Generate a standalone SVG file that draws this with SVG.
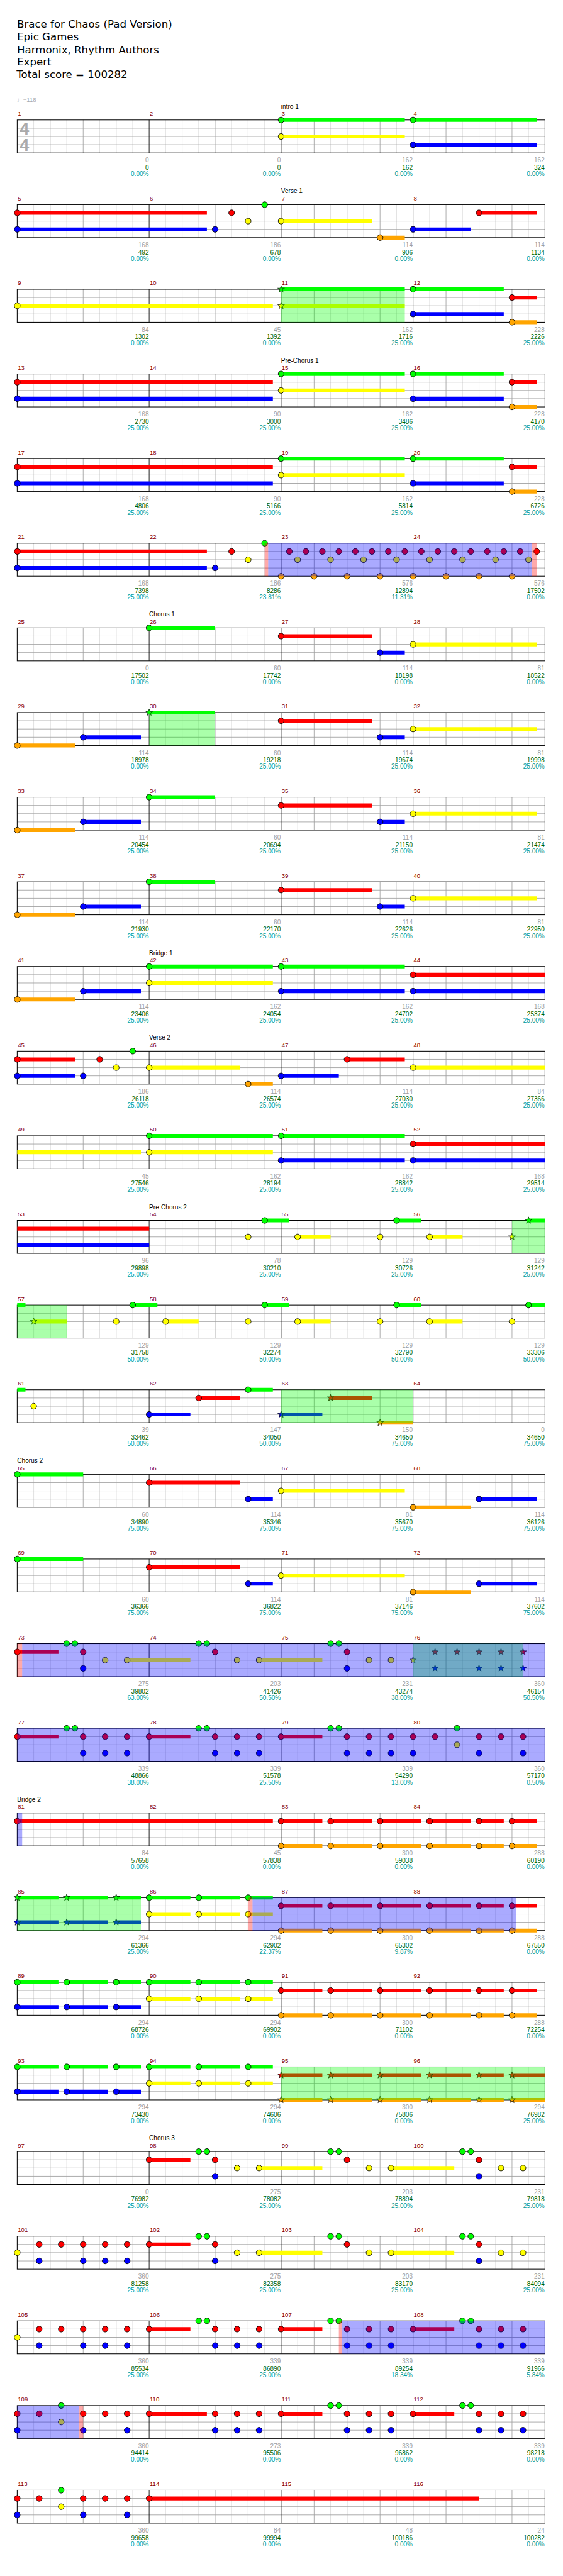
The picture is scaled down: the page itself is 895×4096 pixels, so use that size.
<svg xmlns="http://www.w3.org/2000/svg" width="895" height="4096" viewBox="0 0 895 4096">
<style>
.t{font-family:"DejaVu Sans",Verdana,sans-serif;font-size:19px;fill:#000}
.mn{font-family:"Liberation Sans",Arial,sans-serif;font-size:11px;fill:#8b0000}
.lb{font-family:"Liberation Sans",Arial,sans-serif;font-size:11.5px;fill:#000}
.sa,.sb,.sc{font-family:"Liberation Sans",Arial,sans-serif;font-size:11.5px;text-anchor:end}
.sa{fill:#a0a0a0}.sb{fill:#006400}.sc{fill:#009c9c}
.h{fill:none;stroke-width:7}
.hg{stroke:#00ff00}.hr{stroke:#ff0000}.hy{stroke:#ffff00}.hb{stroke:#0000ff}.ho{stroke:#ffa500}
.sp{fill:#00ff00;fill-opacity:0.333}
.od{fill:#0000ff;fill-opacity:0.333}
.pk{fill:#ff0000;fill-opacity:0.333}
</style>
<defs>
<g id="grid">
<path d="M30 0V60M90 0V60M150 0V60M210 0V60M270 0V60M330 0V60M390 0V60M450 0V60M510 0V60M570 0V60M630 0V60M690 0V60M750 0V60M810 0V60M870 0V60M930 0V60" stroke="#dcdcdc" stroke-width="1"/>
<path d="M60 0V60M120 0V60M180 0V60M300 0V60M360 0V60M420 0V60M540 0V60M600 0V60M660 0V60M780 0V60M840 0V60M900 0V60M0 15H960M0 30H960M0 45H960" stroke="#a0a0a0" stroke-width="1"/>
<path d="M240 0V60M480 0V60M720 0V60" stroke="#000" stroke-width="1"/>
<rect x="0" y="0" width="960" height="60" fill="none" stroke="#000" stroke-width="1.2"/>
</g>
<circle id="n" r="5.3" stroke="#000" stroke-width="1"/>
<use id="ng" href="#n" fill="#00ff00"/>
<use id="nr" href="#n" y="15" fill="#ff0000"/>
<use id="ny" href="#n" y="30" fill="#ffff00"/>
<use id="nb" href="#n" y="45" fill="#0000ff"/>
<use id="no" href="#n" y="60" fill="#ffa500"/>
<polygon id="st" points="0,-6.5 1.53,-2.1 6.18,-2.01 2.47,0.8 3.82,5.26 0,2.6 -3.82,5.26 -2.47,0.8 -6.18,-2.01 -1.53,-2.1" stroke="#000" stroke-width="0.8"/>
<use id="sg" href="#st" fill="#00ff00"/>
<use id="sr" href="#st" y="15" fill="#ff0000"/>
<use id="sy" href="#st" y="30" fill="#ffff00"/>
<use id="sb" href="#st" y="45" fill="#0000ff"/>
<use id="so" href="#st" y="60" fill="#ffa500"/>
</defs>
<rect width="895" height="4096" fill="#fff"/>
<g transform="scale(0.874)">
<g id="header">
<text class="t" x="31" y="50">Brace for Chaos (Pad Version)</text>
<text class="t" x="31" y="73">Epic Games</text>
<text class="t" x="31" y="96.7">Harmonix, Rhythm Authors</text>
<text class="t" x="31" y="119.3">Expert</text>
<text class="t" x="30" y="142.3">Total score = 100282</text>
<text x="31" y="185" font-family="Liberation Sans, DejaVu Sans, sans-serif" font-size="11" fill="#aaa">♩=118</text>
</g>

<g id="row1" transform="translate(31.3,218.3)">
<use href="#grid"/>
<text x="4.5" y="26.7" font-family="Liberation Sans, Arial, sans-serif" font-weight="bold" font-size="31" fill="#aaa">4</text>
<text x="4.5" y="56.7" font-family="Liberation Sans, Arial, sans-serif" font-weight="bold" font-size="31" fill="#aaa">4</text>
<path class="h hg" d="M480 0H705M720 0H945"/><path class="h hy" d="M480 30H705"/><path class="h hb" d="M720 45H945"/>
<use href="#ng" x="480"/><use href="#ny" x="480"/><use href="#ng" x="720"/><use href="#nb" x="720"/>
<text class="lb" x="480" y="-20.6">intro 1</text>
<text class="mn"><tspan x="1" y="-7.5">1</tspan><tspan x="241">2</tspan><tspan x="481">3</tspan><tspan x="721">4</tspan></text>
<text class="sa"><tspan x="239.3" y="77.4">0</tspan><tspan x="479.3">0</tspan><tspan x="719.3">162</tspan><tspan x="959.3">162</tspan></text>
<text class="sb"><tspan x="239.3" y="90.7">0</tspan><tspan x="479.3">0</tspan><tspan x="719.3">162</tspan><tspan x="959.3">324</tspan></text>
<text class="sc"><tspan x="239.3" y="102.4">0.00%</tspan><tspan x="479.3">0.00%</tspan><tspan x="719.3">0.00%</tspan><tspan x="959.3">0.00%</tspan></text>
</g>

<g id="row2" transform="translate(31.3,372.3)">
<use href="#grid"/>
<path class="h hr" d="M0 15H345M840 15H945"/><path class="h hb" d="M0 45H345M720 45H825"/><path class="h hy" d="M480 30H645"/><path class="h ho" d="M660 60H705"/>
<use href="#nr" x="0"/><use href="#nb" x="0"/><use href="#nb" x="360"/><use href="#nr" x="390"/><use href="#ny" x="420"/><use href="#ng" x="450"/><use href="#ny" x="480"/><use href="#no" x="660"/><use href="#nb" x="720"/><use href="#nr" x="840"/>
<text class="lb" x="480" y="-20.6">Verse 1</text>
<text class="mn"><tspan x="1" y="-7.5">5</tspan><tspan x="241">6</tspan><tspan x="481">7</tspan><tspan x="721">8</tspan></text>
<text class="sa"><tspan x="239.3" y="77.4">168</tspan><tspan x="479.3">186</tspan><tspan x="719.3">114</tspan><tspan x="959.3">114</tspan></text>
<text class="sb"><tspan x="239.3" y="90.7">492</tspan><tspan x="479.3">678</tspan><tspan x="719.3">906</tspan><tspan x="959.3">1134</tspan></text>
<text class="sc"><tspan x="239.3" y="102.4">0.00%</tspan><tspan x="479.3">0.00%</tspan><tspan x="719.3">0.00%</tspan><tspan x="959.3">0.00%</tspan></text>
</g>

<g id="row3" transform="translate(31.3,526.3)">
<use href="#grid"/>
<path class="h hy" d="M0 30H465M480 30H705"/><path class="h hg" d="M480 0H705M720 0H885"/><path class="h hb" d="M720 45H885"/><path class="h hr" d="M900 15H945"/><path class="h ho" d="M900 60H945"/>
<use href="#ny" x="0"/><use href="#sg" x="480"/><use href="#sy" x="480"/><use href="#ng" x="720"/><use href="#nb" x="720"/><use href="#nr" x="900"/><use href="#no" x="900"/>
<rect class="sp" x="480" y="0" width="225" height="60"/>
<text class="mn"><tspan x="1" y="-7.5">9</tspan><tspan x="241">10</tspan><tspan x="481">11</tspan><tspan x="721">12</tspan></text>
<text class="sa"><tspan x="239.3" y="77.4">84</tspan><tspan x="479.3">45</tspan><tspan x="719.3">162</tspan><tspan x="959.3">228</tspan></text>
<text class="sb"><tspan x="239.3" y="90.7">1302</tspan><tspan x="479.3">1392</tspan><tspan x="719.3">1716</tspan><tspan x="959.3">2226</tspan></text>
<text class="sc"><tspan x="239.3" y="102.4">0.00%</tspan><tspan x="479.3">0.00%</tspan><tspan x="719.3">25.00%</tspan><tspan x="959.3">25.00%</tspan></text>
</g>

<g id="row4" transform="translate(31.3,680.3)">
<use href="#grid"/>
<path class="h hr" d="M0 15H465M900 15H945"/><path class="h hb" d="M0 45H465M720 45H885"/><path class="h hg" d="M480 0H705M720 0H885"/><path class="h hy" d="M480 30H705"/><path class="h ho" d="M900 60H945"/>
<use href="#nr" x="0"/><use href="#nb" x="0"/><use href="#ng" x="480"/><use href="#ny" x="480"/><use href="#ng" x="720"/><use href="#nb" x="720"/><use href="#nr" x="900"/><use href="#no" x="900"/>
<text class="lb" x="480" y="-20.6">Pre-Chorus 1</text>
<text class="mn"><tspan x="1" y="-7.5">13</tspan><tspan x="241">14</tspan><tspan x="481">15</tspan><tspan x="721">16</tspan></text>
<text class="sa"><tspan x="239.3" y="77.4">168</tspan><tspan x="479.3">90</tspan><tspan x="719.3">162</tspan><tspan x="959.3">228</tspan></text>
<text class="sb"><tspan x="239.3" y="90.7">2730</tspan><tspan x="479.3">3000</tspan><tspan x="719.3">3486</tspan><tspan x="959.3">4170</tspan></text>
<text class="sc"><tspan x="239.3" y="102.4">25.00%</tspan><tspan x="479.3">25.00%</tspan><tspan x="719.3">25.00%</tspan><tspan x="959.3">25.00%</tspan></text>
</g>

<g id="row5" transform="translate(31.3,834.3)">
<use href="#grid"/>
<path class="h hr" d="M0 15H465M900 15H945"/><path class="h hb" d="M0 45H465M720 45H885"/><path class="h hg" d="M480 0H705M720 0H885"/><path class="h hy" d="M480 30H705"/><path class="h ho" d="M900 60H945"/>
<use href="#nr" x="0"/><use href="#nb" x="0"/><use href="#ng" x="480"/><use href="#ny" x="480"/><use href="#ng" x="720"/><use href="#nb" x="720"/><use href="#nr" x="900"/><use href="#no" x="900"/>
<text class="mn"><tspan x="1" y="-7.5">17</tspan><tspan x="241">18</tspan><tspan x="481">19</tspan><tspan x="721">20</tspan></text>
<text class="sa"><tspan x="239.3" y="77.4">168</tspan><tspan x="479.3">90</tspan><tspan x="719.3">162</tspan><tspan x="959.3">228</tspan></text>
<text class="sb"><tspan x="239.3" y="90.7">4806</tspan><tspan x="479.3">5166</tspan><tspan x="719.3">5814</tspan><tspan x="959.3">6726</tspan></text>
<text class="sc"><tspan x="239.3" y="102.4">25.00%</tspan><tspan x="479.3">25.00%</tspan><tspan x="719.3">25.00%</tspan><tspan x="959.3">25.00%</tspan></text>
</g>

<g id="row6" transform="translate(31.3,988.3)">
<use href="#grid"/>
<path class="h hr" d="M0 15H345"/><path class="h hb" d="M0 45H345"/>
<use href="#nr" x="0"/><use href="#nb" x="0"/><use href="#nb" x="360"/><use href="#nr" x="390"/><use href="#ny" x="420"/><use href="#ng" x="450"/>
<use href="#nr" x="495"/><use href="#nr" x="525"/><use href="#nr" x="555"/><use href="#nr" x="585"/><use href="#nr" x="615"/><use href="#nr" x="645"/><use href="#nr" x="675"/><use href="#nr" x="705"/><use href="#nr" x="735"/><use href="#nr" x="765"/><use href="#nr" x="795"/><use href="#nr" x="825"/><use href="#nr" x="855"/><use href="#nr" x="885"/><use href="#nr" x="915"/><use href="#nr" x="945"/>
<use href="#ny" x="510"/><use href="#ny" x="570"/><use href="#ny" x="630"/><use href="#ny" x="690"/><use href="#ny" x="750"/><use href="#ny" x="810"/><use href="#ny" x="870"/><use href="#ny" x="930"/>
<use href="#no" x="480"/><use href="#no" x="540"/><use href="#no" x="600"/><use href="#no" x="660"/><use href="#no" x="720"/><use href="#no" x="780"/><use href="#no" x="840"/><use href="#no" x="900"/>
<rect class="pk" x="450" y="0" width="6.5" height="60"/><rect class="od" x="456.5" y="0" width="479.5" height="60"/><rect class="pk" x="936" y="0" width="9" height="60"/>
<text class="mn"><tspan x="1" y="-7.5">21</tspan><tspan x="241">22</tspan><tspan x="481">23</tspan><tspan x="721">24</tspan></text>
<text class="sa"><tspan x="239.3" y="77.4">168</tspan><tspan x="479.3">186</tspan><tspan x="719.3">576</tspan><tspan x="959.3">576</tspan></text>
<text class="sb"><tspan x="239.3" y="90.7">7398</tspan><tspan x="479.3">8286</tspan><tspan x="719.3">12894</tspan><tspan x="959.3">17502</tspan></text>
<text class="sc"><tspan x="239.3" y="102.4">25.00%</tspan><tspan x="479.3">23.81%</tspan><tspan x="719.3">11.31%</tspan><tspan x="959.3">0.00%</tspan></text>
</g>

<g id="row7" transform="translate(31.3,1142.3)">
<use href="#grid"/>
<path class="h hg" d="M240 0H360"/><path class="h hr" d="M480 15H645"/><path class="h hb" d="M660 45H705"/><path class="h hy" d="M720 30H945"/>
<use href="#ng" x="240"/><use href="#nr" x="480"/><use href="#nb" x="660"/><use href="#ny" x="720"/>
<text class="lb" x="240" y="-20.6">Chorus 1</text>
<text class="mn"><tspan x="1" y="-7.5">25</tspan><tspan x="241">26</tspan><tspan x="481">27</tspan><tspan x="721">28</tspan></text>
<text class="sa"><tspan x="239.3" y="77.4">0</tspan><tspan x="479.3">60</tspan><tspan x="719.3">114</tspan><tspan x="959.3">81</tspan></text>
<text class="sb"><tspan x="239.3" y="90.7">17502</tspan><tspan x="479.3">17742</tspan><tspan x="719.3">18198</tspan><tspan x="959.3">18522</tspan></text>
<text class="sc"><tspan x="239.3" y="102.4">0.00%</tspan><tspan x="479.3">0.00%</tspan><tspan x="719.3">0.00%</tspan><tspan x="959.3">0.00%</tspan></text>
</g>

<g id="row8" transform="translate(31.3,1296.3)">
<use href="#grid"/>
<path class="h ho" d="M0 60H105"/><path class="h hb" d="M120 45H225M660 45H705"/><path class="h hg" d="M240 0H360"/><path class="h hr" d="M480 15H645"/><path class="h hy" d="M720 30H945"/>
<use href="#no" x="0"/><use href="#nb" x="120"/><use href="#sg" x="240"/><use href="#nr" x="480"/><use href="#nb" x="660"/><use href="#ny" x="720"/>
<rect class="sp" x="240" y="0" width="120" height="60"/>
<text class="mn"><tspan x="1" y="-7.5">29</tspan><tspan x="241">30</tspan><tspan x="481">31</tspan><tspan x="721">32</tspan></text>
<text class="sa"><tspan x="239.3" y="77.4">114</tspan><tspan x="479.3">60</tspan><tspan x="719.3">114</tspan><tspan x="959.3">81</tspan></text>
<text class="sb"><tspan x="239.3" y="90.7">18978</tspan><tspan x="479.3">19218</tspan><tspan x="719.3">19674</tspan><tspan x="959.3">19998</tspan></text>
<text class="sc"><tspan x="239.3" y="102.4">0.00%</tspan><tspan x="479.3">25.00%</tspan><tspan x="719.3">25.00%</tspan><tspan x="959.3">25.00%</tspan></text>
</g>

<g id="row9" transform="translate(31.3,1450.3)">
<use href="#grid"/>
<path class="h ho" d="M0 60H105"/><path class="h hb" d="M120 45H225M660 45H705"/><path class="h hg" d="M240 0H360"/><path class="h hr" d="M480 15H645"/><path class="h hy" d="M720 30H945"/>
<use href="#no" x="0"/><use href="#nb" x="120"/><use href="#ng" x="240"/><use href="#nr" x="480"/><use href="#nb" x="660"/><use href="#ny" x="720"/>
<text class="mn"><tspan x="1" y="-7.5">33</tspan><tspan x="241">34</tspan><tspan x="481">35</tspan><tspan x="721">36</tspan></text>
<text class="sa"><tspan x="239.3" y="77.4">114</tspan><tspan x="479.3">60</tspan><tspan x="719.3">114</tspan><tspan x="959.3">81</tspan></text>
<text class="sb"><tspan x="239.3" y="90.7">20454</tspan><tspan x="479.3">20694</tspan><tspan x="719.3">21150</tspan><tspan x="959.3">21474</tspan></text>
<text class="sc"><tspan x="239.3" y="102.4">25.00%</tspan><tspan x="479.3">25.00%</tspan><tspan x="719.3">25.00%</tspan><tspan x="959.3">25.00%</tspan></text>
</g>

<g id="row10" transform="translate(31.3,1604.3)">
<use href="#grid"/>
<path class="h ho" d="M0 60H105"/><path class="h hb" d="M120 45H225M660 45H705"/><path class="h hg" d="M240 0H360"/><path class="h hr" d="M480 15H645"/><path class="h hy" d="M720 30H945"/>
<use href="#no" x="0"/><use href="#nb" x="120"/><use href="#ng" x="240"/><use href="#nr" x="480"/><use href="#nb" x="660"/><use href="#ny" x="720"/>
<text class="mn"><tspan x="1" y="-7.5">37</tspan><tspan x="241">38</tspan><tspan x="481">39</tspan><tspan x="721">40</tspan></text>
<text class="sa"><tspan x="239.3" y="77.4">114</tspan><tspan x="479.3">60</tspan><tspan x="719.3">114</tspan><tspan x="959.3">81</tspan></text>
<text class="sb"><tspan x="239.3" y="90.7">21930</tspan><tspan x="479.3">22170</tspan><tspan x="719.3">22626</tspan><tspan x="959.3">22950</tspan></text>
<text class="sc"><tspan x="239.3" y="102.4">25.00%</tspan><tspan x="479.3">25.00%</tspan><tspan x="719.3">25.00%</tspan><tspan x="959.3">25.00%</tspan></text>
</g>

<g id="row11" transform="translate(31.3,1758.3)">
<use href="#grid"/>
<path class="h ho" d="M0 60H105"/><path class="h hb" d="M120 45H225M480 45H705M720 45H960"/><path class="h hg" d="M240 0H465M480 0H705"/><path class="h hy" d="M240 30H465"/><path class="h hr" d="M720 15H960"/>
<use href="#no" x="0"/><use href="#nb" x="120"/><use href="#ng" x="240"/><use href="#ny" x="240"/><use href="#ng" x="480"/><use href="#nb" x="480"/><use href="#nr" x="720"/><use href="#nb" x="720"/>
<text class="lb" x="240" y="-20.6">Bridge 1</text>
<text class="mn"><tspan x="1" y="-7.5">41</tspan><tspan x="241">42</tspan><tspan x="481">43</tspan><tspan x="721">44</tspan></text>
<text class="sa"><tspan x="239.3" y="77.4">114</tspan><tspan x="479.3">162</tspan><tspan x="719.3">162</tspan><tspan x="959.3">168</tspan></text>
<text class="sb"><tspan x="239.3" y="90.7">23406</tspan><tspan x="479.3">24054</tspan><tspan x="719.3">24702</tspan><tspan x="959.3">25374</tspan></text>
<text class="sc"><tspan x="239.3" y="102.4">25.00%</tspan><tspan x="479.3">25.00%</tspan><tspan x="719.3">25.00%</tspan><tspan x="959.3">25.00%</tspan></text>
</g>

<g id="row12" transform="translate(31.3,1912.3)">
<use href="#grid"/>
<path class="h hr" d="M0 15H105M600 15H705"/><path class="h hb" d="M0 45H105M480 45H585"/><path class="h hy" d="M240 30H405M720 30H960"/><path class="h ho" d="M420 60H465"/>
<use href="#nr" x="0"/><use href="#nb" x="0"/><use href="#nb" x="120"/><use href="#nr" x="150"/><use href="#ny" x="180"/><use href="#ng" x="210"/><use href="#ny" x="240"/><use href="#no" x="420"/><use href="#nb" x="480"/><use href="#nr" x="600"/><use href="#ny" x="720"/>
<text class="lb" x="240" y="-20.6">Verse 2</text>
<text class="mn"><tspan x="1" y="-7.5">45</tspan><tspan x="241">46</tspan><tspan x="481">47</tspan><tspan x="721">48</tspan></text>
<text class="sa"><tspan x="239.3" y="77.4">186</tspan><tspan x="479.3">114</tspan><tspan x="719.3">114</tspan><tspan x="959.3">84</tspan></text>
<text class="sb"><tspan x="239.3" y="90.7">26118</tspan><tspan x="479.3">26574</tspan><tspan x="719.3">27030</tspan><tspan x="959.3">27366</tspan></text>
<text class="sc"><tspan x="239.3" y="102.4">25.00%</tspan><tspan x="479.3">25.00%</tspan><tspan x="719.3">25.00%</tspan><tspan x="959.3">25.00%</tspan></text>
</g>

<g id="row13" transform="translate(31.3,2066.3)">
<use href="#grid"/>
<path class="h hy" d="M0 30H225M240 30H465"/><path class="h hg" d="M240 0H465M480 0H705"/><path class="h hb" d="M480 45H705M720 45H960"/><path class="h hr" d="M720 15H960"/>
<use href="#ng" x="240"/><use href="#ny" x="240"/><use href="#ng" x="480"/><use href="#nb" x="480"/><use href="#nr" x="720"/><use href="#nb" x="720"/>
<text class="mn"><tspan x="1" y="-7.5">49</tspan><tspan x="241">50</tspan><tspan x="481">51</tspan><tspan x="721">52</tspan></text>
<text class="sa"><tspan x="239.3" y="77.4">45</tspan><tspan x="479.3">162</tspan><tspan x="719.3">162</tspan><tspan x="959.3">168</tspan></text>
<text class="sb"><tspan x="239.3" y="90.7">27546</tspan><tspan x="479.3">28194</tspan><tspan x="719.3">28842</tspan><tspan x="959.3">29514</tspan></text>
<text class="sc"><tspan x="239.3" y="102.4">25.00%</tspan><tspan x="479.3">25.00%</tspan><tspan x="719.3">25.00%</tspan><tspan x="959.3">25.00%</tspan></text>
</g>

<g id="row14" transform="translate(31.3,2220.3)">
<use href="#grid"/>
<path class="h hr" d="M0 15H240"/><path class="h hb" d="M0 45H240"/><path class="h hg" d="M450 0H495M690 0H735M930 0H960"/><path class="h hy" d="M510 30H570M750 30H810"/>
<use href="#ny" x="420"/><use href="#ng" x="450"/><use href="#ny" x="510"/><use href="#ny" x="660"/><use href="#ng" x="690"/><use href="#ny" x="750"/><use href="#sy" x="900"/><use href="#sg" x="930"/>
<rect class="sp" x="900" y="0" width="60" height="60"/>
<text class="lb" x="240" y="-20.6">Pre-Chorus 2</text>
<text class="mn"><tspan x="1" y="-7.5">53</tspan><tspan x="241">54</tspan><tspan x="481">55</tspan><tspan x="721">56</tspan></text>
<text class="sa"><tspan x="239.3" y="77.4">96</tspan><tspan x="479.3">78</tspan><tspan x="719.3">129</tspan><tspan x="959.3">129</tspan></text>
<text class="sb"><tspan x="239.3" y="90.7">29898</tspan><tspan x="479.3">30210</tspan><tspan x="719.3">30726</tspan><tspan x="959.3">31242</tspan></text>
<text class="sc"><tspan x="239.3" y="102.4">25.00%</tspan><tspan x="479.3">25.00%</tspan><tspan x="719.3">25.00%</tspan><tspan x="959.3">25.00%</tspan></text>
</g>

<g id="row15" transform="translate(31.3,2374.3)">
<use href="#grid"/>
<path class="h hg" d="M0 0H15M210 0H255M450 0H495M690 0H735M930 0H960"/><path class="h hy" d="M30 30H90M270 30H330M510 30H570M750 30H810"/>
<use href="#sy" x="30"/><use href="#ny" x="180"/><use href="#ng" x="210"/><use href="#ny" x="270"/><use href="#ny" x="420"/><use href="#ng" x="450"/><use href="#ny" x="510"/><use href="#ny" x="660"/><use href="#ng" x="690"/><use href="#ny" x="750"/><use href="#ny" x="900"/><use href="#ng" x="930"/>
<rect class="sp" x="0" y="0" width="90" height="60"/>
<text class="mn"><tspan x="1" y="-7.5">57</tspan><tspan x="241">58</tspan><tspan x="481">59</tspan><tspan x="721">60</tspan></text>
<text class="sa"><tspan x="239.3" y="77.4">129</tspan><tspan x="479.3">129</tspan><tspan x="719.3">129</tspan><tspan x="959.3">129</tspan></text>
<text class="sb"><tspan x="239.3" y="90.7">31758</tspan><tspan x="479.3">32274</tspan><tspan x="719.3">32790</tspan><tspan x="959.3">33306</tspan></text>
<text class="sc"><tspan x="239.3" y="102.4">50.00%</tspan><tspan x="479.3">50.00%</tspan><tspan x="719.3">50.00%</tspan><tspan x="959.3">50.00%</tspan></text>
</g>

<g id="row16" transform="translate(31.3,2528.3)">
<use href="#grid"/>
<path class="h hg" d="M0 0H15M420 0H465"/><path class="h hb" d="M240 45H315M480 45H555"/><path class="h hr" d="M330 15H405M570 15H645"/><path class="h ho" d="M660 60H720"/>
<use href="#ny" x="30"/><use href="#nb" x="240"/><use href="#nr" x="330"/><use href="#ng" x="420"/><use href="#sb" x="480"/><use href="#sr" x="570"/><use href="#so" x="660"/>
<rect class="sp" x="480" y="0" width="240" height="60"/>
<text class="mn"><tspan x="1" y="-7.5">61</tspan><tspan x="241">62</tspan><tspan x="481">63</tspan><tspan x="721">64</tspan></text>
<text class="sa"><tspan x="239.3" y="77.4">39</tspan><tspan x="479.3">147</tspan><tspan x="719.3">150</tspan><tspan x="959.3">0</tspan></text>
<text class="sb"><tspan x="239.3" y="90.7">33462</tspan><tspan x="479.3">34050</tspan><tspan x="719.3">34650</tspan><tspan x="959.3">34650</tspan></text>
<text class="sc"><tspan x="239.3" y="102.4">50.00%</tspan><tspan x="479.3">50.00%</tspan><tspan x="719.3">75.00%</tspan><tspan x="959.3">75.00%</tspan></text>
</g>

<g id="row17" transform="translate(31.3,2682.3)">
<use href="#grid"/>
<path class="h hg" d="M0 0H120"/><path class="h hr" d="M240 15H405"/><path class="h hb" d="M420 45H465M840 45H945"/><path class="h hy" d="M480 30H705"/><path class="h ho" d="M720 60H825"/>
<use href="#ng" x="0"/><use href="#nr" x="240"/><use href="#nb" x="420"/><use href="#ny" x="480"/><use href="#no" x="720"/><use href="#nb" x="840"/>
<text class="lb" x="0" y="-20.6">Chorus 2</text>
<text class="mn"><tspan x="1" y="-7.5">65</tspan><tspan x="241">66</tspan><tspan x="481">67</tspan><tspan x="721">68</tspan></text>
<text class="sa"><tspan x="239.3" y="77.4">60</tspan><tspan x="479.3">114</tspan><tspan x="719.3">81</tspan><tspan x="959.3">114</tspan></text>
<text class="sb"><tspan x="239.3" y="90.7">34890</tspan><tspan x="479.3">35346</tspan><tspan x="719.3">35670</tspan><tspan x="959.3">36126</tspan></text>
<text class="sc"><tspan x="239.3" y="102.4">75.00%</tspan><tspan x="479.3">75.00%</tspan><tspan x="719.3">75.00%</tspan><tspan x="959.3">75.00%</tspan></text>
</g>

<g id="row18" transform="translate(31.3,2836.3)">
<use href="#grid"/>
<path class="h hg" d="M0 0H120"/><path class="h hr" d="M240 15H405"/><path class="h hb" d="M420 45H465M840 45H945"/><path class="h hy" d="M480 30H705"/><path class="h ho" d="M720 60H825"/>
<use href="#ng" x="0"/><use href="#nr" x="240"/><use href="#nb" x="420"/><use href="#ny" x="480"/><use href="#no" x="720"/><use href="#nb" x="840"/>
<text class="mn"><tspan x="1" y="-7.5">69</tspan><tspan x="241">70</tspan><tspan x="481">71</tspan><tspan x="721">72</tspan></text>
<text class="sa"><tspan x="239.3" y="77.4">60</tspan><tspan x="479.3">114</tspan><tspan x="719.3">81</tspan><tspan x="959.3">114</tspan></text>
<text class="sb"><tspan x="239.3" y="90.7">36366</tspan><tspan x="479.3">36822</tspan><tspan x="719.3">37146</tspan><tspan x="959.3">37602</tspan></text>
<text class="sc"><tspan x="239.3" y="102.4">75.00%</tspan><tspan x="479.3">75.00%</tspan><tspan x="719.3">75.00%</tspan><tspan x="959.3">75.00%</tspan></text>
</g>

<g id="row19" transform="translate(31.3,2990.3)">
<use href="#grid"/>
<path class="h hr" d="M0 15H75"/><path class="h hy" d="M200 30H315M440 30H555"/>
<use href="#nr" x="0"/><use href="#ng" x="90"/><use href="#ng" x="105"/><use href="#nr" x="120"/><use href="#nb" x="120"/><use href="#ny" x="160"/><use href="#ny" x="200"/><use href="#ng" x="330"/><use href="#ng" x="345"/><use href="#nr" x="360"/><use href="#ny" x="400"/><use href="#ny" x="440"/><use href="#ng" x="570"/><use href="#ng" x="585"/><use href="#nr" x="600"/><use href="#nb" x="600"/><use href="#ny" x="640"/><use href="#ny" x="680"/>
<use href="#sy" x="720"/><use href="#sr" x="760"/><use href="#sr" x="800"/><use href="#sr" x="840"/><use href="#sr" x="880"/><use href="#sr" x="920"/><use href="#sb" x="760"/><use href="#sb" x="840"/><use href="#sb" x="880"/><use href="#sb" x="920"/>
<rect class="pk" x="0" y="0" width="9" height="60"/><rect class="sp" x="720" y="0" width="200" height="60"/><rect class="od" x="9" y="0" width="951" height="60"/>
<text class="mn"><tspan x="1" y="-7.5">73</tspan><tspan x="241">74</tspan><tspan x="481">75</tspan><tspan x="721">76</tspan></text>
<text class="sa"><tspan x="239.3" y="77.4">275</tspan><tspan x="479.3">203</tspan><tspan x="719.3">231</tspan><tspan x="959.3">360</tspan></text>
<text class="sb"><tspan x="239.3" y="90.7">39802</tspan><tspan x="479.3">41426</tspan><tspan x="719.3">43274</tspan><tspan x="959.3">46154</tspan></text>
<text class="sc"><tspan x="239.3" y="102.4">63.00%</tspan><tspan x="479.3">50.50%</tspan><tspan x="719.3">38.00%</tspan><tspan x="959.3">50.50%</tspan></text>
</g>

<g id="row20" transform="translate(31.3,3144.3)">
<use href="#grid"/>
<path class="h hr" d="M0 15H75M240 15H315M480 15H555"/>
<use href="#nr" x="0"/><use href="#ng" x="90"/><use href="#ng" x="105"/><use href="#nr" x="120"/><use href="#nb" x="120"/><use href="#nr" x="160"/><use href="#nb" x="160"/><use href="#nr" x="200"/><use href="#nb" x="200"/><use href="#nr" x="240"/><use href="#ng" x="330"/><use href="#ng" x="345"/><use href="#nr" x="360"/><use href="#nb" x="360"/><use href="#nr" x="400"/><use href="#nb" x="400"/><use href="#nr" x="440"/><use href="#nb" x="440"/><use href="#nr" x="480"/><use href="#ng" x="570"/><use href="#ng" x="585"/><use href="#nr" x="600"/><use href="#nb" x="600"/><use href="#nr" x="640"/><use href="#nb" x="640"/><use href="#nr" x="680"/><use href="#nb" x="680"/><use href="#nr" x="720"/><use href="#nb" x="720"/><use href="#nr" x="760"/><use href="#ng" x="800"/><use href="#ny" x="800"/><use href="#nr" x="840"/><use href="#nb" x="840"/><use href="#nr" x="880"/><use href="#nr" x="920"/><use href="#nb" x="920"/>
<rect class="od" x="0" y="0" width="960" height="60"/>
<text class="mn"><tspan x="1" y="-7.5">77</tspan><tspan x="241">78</tspan><tspan x="481">79</tspan><tspan x="721">80</tspan></text>
<text class="sa"><tspan x="239.3" y="77.4">339</tspan><tspan x="479.3">339</tspan><tspan x="719.3">339</tspan><tspan x="959.3">360</tspan></text>
<text class="sb"><tspan x="239.3" y="90.7">48866</tspan><tspan x="479.3">51578</tspan><tspan x="719.3">54290</tspan><tspan x="959.3">57170</tspan></text>
<text class="sc"><tspan x="239.3" y="102.4">38.00%</tspan><tspan x="479.3">25.50%</tspan><tspan x="719.3">13.00%</tspan><tspan x="959.3">0.50%</tspan></text>
</g>

<g id="row21" transform="translate(31.3,3298.3)">
<use href="#grid"/>
<path class="h hr" d="M0 15H465M480 15H555M570 15H645M660 15H735M750 15H825M840 15H885M900 15H945"/><path class="h ho" d="M480 60H555M570 60H645M660 60H735M750 60H825M840 60H885M900 60H945"/>
<use href="#nr" x="0"/><use href="#nr" x="480"/><use href="#nr" x="570"/><use href="#nr" x="660"/><use href="#nr" x="750"/><use href="#nr" x="840"/><use href="#nr" x="900"/><use href="#no" x="480"/><use href="#no" x="570"/><use href="#no" x="660"/><use href="#no" x="750"/><use href="#no" x="840"/><use href="#no" x="900"/>
<rect class="od" x="0" y="0" width="9" height="60"/>
<text class="lb" x="0" y="-20.6">Bridge 2</text>
<text class="mn"><tspan x="1" y="-7.5">81</tspan><tspan x="241">82</tspan><tspan x="481">83</tspan><tspan x="721">84</tspan></text>
<text class="sa"><tspan x="239.3" y="77.4">84</tspan><tspan x="479.3">45</tspan><tspan x="719.3">300</tspan><tspan x="959.3">288</tspan></text>
<text class="sb"><tspan x="239.3" y="90.7">57658</tspan><tspan x="479.3">57838</tspan><tspan x="719.3">59038</tspan><tspan x="959.3">60190</tspan></text>
<text class="sc"><tspan x="239.3" y="102.4">0.00%</tspan><tspan x="479.3">0.00%</tspan><tspan x="719.3">0.00%</tspan><tspan x="959.3">0.00%</tspan></text>
</g>

<g id="row22" transform="translate(31.3,3452.3)">
<use href="#grid"/>
<path class="h hg" d="M0 0H75M90 0H165M180 0H225M240 0H315M330 0H405M420 0H465"/><path class="h hb" d="M0 45H75M90 45H165M180 45H225"/><path class="h hy" d="M240 30H315M330 30H405M420 30H465"/>
<path class="h hr" d="M480 15H555M570 15H645M660 15H735M750 15H825M840 15H885M900 15H945"/><path class="h ho" d="M480 60H555M570 60H645M660 60H735M750 60H825M840 60H885M900 60H945"/>
<use href="#sg" x="0"/><use href="#sg" x="90"/><use href="#sg" x="180"/><use href="#sb" x="0"/><use href="#sb" x="90"/><use href="#sb" x="180"/>
<use href="#ng" x="240"/><use href="#ng" x="330"/><use href="#ng" x="420"/><use href="#ny" x="240"/><use href="#ny" x="330"/><use href="#ny" x="420"/>
<use href="#nr" x="480"/><use href="#nr" x="570"/><use href="#nr" x="660"/><use href="#nr" x="750"/><use href="#nr" x="840"/><use href="#nr" x="900"/><use href="#no" x="480"/><use href="#no" x="570"/><use href="#no" x="660"/><use href="#no" x="750"/><use href="#no" x="840"/><use href="#no" x="900"/>
<rect class="sp" x="0" y="0" width="225" height="60"/><rect class="pk" x="420" y="0" width="8" height="60"/><rect class="od" x="428" y="0" width="480" height="60"/>
<text class="mn"><tspan x="1" y="-7.5">85</tspan><tspan x="241">86</tspan><tspan x="481">87</tspan><tspan x="721">88</tspan></text>
<text class="sa"><tspan x="239.3" y="77.4">294</tspan><tspan x="479.3">294</tspan><tspan x="719.3">300</tspan><tspan x="959.3">288</tspan></text>
<text class="sb"><tspan x="239.3" y="90.7">61366</tspan><tspan x="479.3">62902</tspan><tspan x="719.3">65302</tspan><tspan x="959.3">67550</tspan></text>
<text class="sc"><tspan x="239.3" y="102.4">25.00%</tspan><tspan x="479.3">22.37%</tspan><tspan x="719.3">9.87%</tspan><tspan x="959.3">0.00%</tspan></text>
</g>

<g id="row23" transform="translate(31.3,3606.3)">
<use href="#grid"/>
<path class="h hg" d="M0 0H75M90 0H165M180 0H225M240 0H315M330 0H405M420 0H465"/><path class="h hb" d="M0 45H75M90 45H165M180 45H225"/><path class="h hy" d="M240 30H315M330 30H405M420 30H465"/>
<path class="h hr" d="M480 15H555M570 15H645M660 15H735M750 15H825M840 15H885M900 15H945"/><path class="h ho" d="M480 60H555M570 60H645M660 60H735M750 60H825M840 60H885M900 60H945"/>
<use href="#ng" x="0"/><use href="#ng" x="90"/><use href="#ng" x="180"/><use href="#nb" x="0"/><use href="#nb" x="90"/><use href="#nb" x="180"/>
<use href="#ng" x="240"/><use href="#ng" x="330"/><use href="#ng" x="420"/><use href="#ny" x="240"/><use href="#ny" x="330"/><use href="#ny" x="420"/>
<use href="#nr" x="480"/><use href="#nr" x="570"/><use href="#nr" x="660"/><use href="#nr" x="750"/><use href="#nr" x="840"/><use href="#nr" x="900"/><use href="#no" x="480"/><use href="#no" x="570"/><use href="#no" x="660"/><use href="#no" x="750"/><use href="#no" x="840"/><use href="#no" x="900"/>
<text class="mn"><tspan x="1" y="-7.5">89</tspan><tspan x="241">90</tspan><tspan x="481">91</tspan><tspan x="721">92</tspan></text>
<text class="sa"><tspan x="239.3" y="77.4">294</tspan><tspan x="479.3">294</tspan><tspan x="719.3">300</tspan><tspan x="959.3">288</tspan></text>
<text class="sb"><tspan x="239.3" y="90.7">68726</tspan><tspan x="479.3">69902</tspan><tspan x="719.3">71102</tspan><tspan x="959.3">72254</tspan></text>
<text class="sc"><tspan x="239.3" y="102.4">0.00%</tspan><tspan x="479.3">0.00%</tspan><tspan x="719.3">0.00%</tspan><tspan x="959.3">0.00%</tspan></text>
</g>

<g id="row24" transform="translate(31.3,3760.3)">
<use href="#grid"/>
<path class="h hg" d="M0 0H75M90 0H165M180 0H225M240 0H315M330 0H405M420 0H465"/><path class="h hb" d="M0 45H75M90 45H165M180 45H225"/><path class="h hy" d="M240 30H315M330 30H405M420 30H465"/>
<path class="h hr" d="M480 15H555M570 15H645M660 15H735M750 15H825M840 15H885M900 15H960"/><path class="h ho" d="M480 60H555M570 60H645M660 60H735M750 60H825M840 60H885M900 60H960"/>
<use href="#ng" x="0"/><use href="#ng" x="90"/><use href="#ng" x="180"/><use href="#nb" x="0"/><use href="#nb" x="90"/><use href="#nb" x="180"/>
<use href="#ng" x="240"/><use href="#ng" x="330"/><use href="#ng" x="420"/><use href="#ny" x="240"/><use href="#ny" x="330"/><use href="#ny" x="420"/>
<use href="#sr" x="480"/><use href="#sr" x="570"/><use href="#sr" x="660"/><use href="#sr" x="750"/><use href="#sr" x="840"/><use href="#sr" x="900"/><use href="#so" x="480"/><use href="#so" x="570"/><use href="#so" x="660"/><use href="#so" x="750"/><use href="#so" x="840"/><use href="#so" x="900"/>
<rect class="sp" x="480" y="0" width="480" height="60"/>
<text class="mn"><tspan x="1" y="-7.5">93</tspan><tspan x="241">94</tspan><tspan x="481">95</tspan><tspan x="721">96</tspan></text>
<text class="sa"><tspan x="239.3" y="77.4">294</tspan><tspan x="479.3">294</tspan><tspan x="719.3">300</tspan><tspan x="959.3">294</tspan></text>
<text class="sb"><tspan x="239.3" y="90.7">73430</tspan><tspan x="479.3">74606</tspan><tspan x="719.3">75806</tspan><tspan x="959.3">76982</tspan></text>
<text class="sc"><tspan x="239.3" y="102.4">0.00%</tspan><tspan x="479.3">0.00%</tspan><tspan x="719.3">0.00%</tspan><tspan x="959.3">25.00%</tspan></text>
</g>

<g id="row25" transform="translate(31.3,3914.3)">
<use href="#grid"/>
<path class="h hr" d="M240 15H315"/><path class="h hy" d="M440 30H555M680 30H795"/>
<use href="#nr" x="240"/><use href="#ng" x="330"/><use href="#ng" x="345"/><use href="#nr" x="360"/><use href="#nb" x="360"/><use href="#ny" x="400"/><use href="#ny" x="440"/><use href="#ng" x="570"/><use href="#ng" x="585"/><use href="#nr" x="600"/><use href="#ny" x="640"/><use href="#ny" x="680"/><use href="#ng" x="810"/><use href="#ng" x="825"/><use href="#nr" x="840"/><use href="#nb" x="840"/><use href="#ny" x="880"/><use href="#ny" x="920"/>
<text class="lb" x="240" y="-20.6">Chorus 3</text>
<text class="mn"><tspan x="1" y="-7.5">97</tspan><tspan x="241">98</tspan><tspan x="481">99</tspan><tspan x="721">100</tspan></text>
<text class="sa"><tspan x="239.3" y="77.4">0</tspan><tspan x="479.3">275</tspan><tspan x="719.3">203</tspan><tspan x="959.3">231</tspan></text>
<text class="sb"><tspan x="239.3" y="90.7">76982</tspan><tspan x="479.3">78082</tspan><tspan x="719.3">78894</tspan><tspan x="959.3">79818</tspan></text>
<text class="sc"><tspan x="239.3" y="102.4">25.00%</tspan><tspan x="479.3">25.00%</tspan><tspan x="719.3">25.00%</tspan><tspan x="959.3">25.00%</tspan></text>
</g>

<g id="row26" transform="translate(31.3,4068.3)">
<use href="#grid"/>
<path class="h hr" d="M240 15H315"/><path class="h hy" d="M440 30H555M680 30H795"/>
<use href="#ny" x="0"/><use href="#nr" x="40"/><use href="#nr" x="80"/><use href="#nr" x="120"/><use href="#nr" x="160"/><use href="#nr" x="200"/><use href="#nb" x="40"/><use href="#nb" x="120"/><use href="#nb" x="160"/><use href="#nb" x="200"/>
<use href="#nr" x="240"/><use href="#ng" x="330"/><use href="#ng" x="345"/><use href="#nr" x="360"/><use href="#nb" x="360"/><use href="#ny" x="400"/><use href="#ny" x="440"/><use href="#ng" x="570"/><use href="#ng" x="585"/><use href="#nr" x="600"/><use href="#ny" x="640"/><use href="#ny" x="680"/><use href="#ng" x="810"/><use href="#ng" x="825"/><use href="#nr" x="840"/><use href="#nb" x="840"/><use href="#ny" x="880"/><use href="#ny" x="920"/>
<text class="mn"><tspan x="1" y="-7.5">101</tspan><tspan x="241">102</tspan><tspan x="481">103</tspan><tspan x="721">104</tspan></text>
<text class="sa"><tspan x="239.3" y="77.4">360</tspan><tspan x="479.3">275</tspan><tspan x="719.3">203</tspan><tspan x="959.3">231</tspan></text>
<text class="sb"><tspan x="239.3" y="90.7">81258</tspan><tspan x="479.3">82358</tspan><tspan x="719.3">83170</tspan><tspan x="959.3">84094</tspan></text>
<text class="sc"><tspan x="239.3" y="102.4">25.00%</tspan><tspan x="479.3">25.00%</tspan><tspan x="719.3">25.00%</tspan><tspan x="959.3">25.00%</tspan></text>
</g>

<g id="row27" transform="translate(31.3,4222.3)">
<use href="#grid"/>
<path class="h hr" d="M240 15H315M480 15H555M720 15H795"/>
<use href="#ny" x="0"/><use href="#nr" x="40"/><use href="#nr" x="80"/><use href="#nr" x="120"/><use href="#nr" x="160"/><use href="#nr" x="200"/><use href="#nb" x="40"/><use href="#nb" x="120"/><use href="#nb" x="160"/><use href="#nb" x="200"/>
<use href="#nr" x="240"/><use href="#ng" x="330"/><use href="#ng" x="345"/><use href="#nr" x="360"/><use href="#nb" x="360"/><use href="#nr" x="400"/><use href="#nb" x="400"/><use href="#nr" x="440"/><use href="#nb" x="440"/>
<use href="#nr" x="480"/><use href="#ng" x="570"/><use href="#ng" x="585"/><use href="#nr" x="600"/><use href="#nb" x="600"/><use href="#nr" x="640"/><use href="#nb" x="640"/><use href="#nr" x="680"/><use href="#nb" x="680"/>
<use href="#nr" x="720"/><use href="#ng" x="810"/><use href="#ng" x="825"/><use href="#nr" x="840"/><use href="#nb" x="840"/><use href="#nr" x="880"/><use href="#nb" x="880"/><use href="#nr" x="920"/><use href="#nb" x="920"/>
<rect class="pk" x="585" y="0" width="6" height="60"/><rect class="od" x="591" y="0" width="369" height="60"/>
<text class="mn"><tspan x="1" y="-7.5">105</tspan><tspan x="241">106</tspan><tspan x="481">107</tspan><tspan x="721">108</tspan></text>
<text class="sa"><tspan x="239.3" y="77.4">360</tspan><tspan x="479.3">339</tspan><tspan x="719.3">339</tspan><tspan x="959.3">339</tspan></text>
<text class="sb"><tspan x="239.3" y="90.7">85534</tspan><tspan x="479.3">86890</tspan><tspan x="719.3">89254</tspan><tspan x="959.3">91966</tspan></text>
<text class="sc"><tspan x="239.3" y="102.4">25.00%</tspan><tspan x="479.3">25.00%</tspan><tspan x="719.3">18.34%</tspan><tspan x="959.3">5.84%</tspan></text>
</g>

<g id="row28" transform="translate(31.3,4376.3)">
<use href="#grid"/>
<path class="h hr" d="M240 15H345M480 15H555M720 15H795"/>
<use href="#nr" x="0"/><use href="#nb" x="0"/><use href="#nr" x="40"/><use href="#ng" x="80"/><use href="#ny" x="80"/><use href="#nr" x="120"/><use href="#nb" x="120"/><use href="#nr" x="160"/><use href="#nr" x="200"/><use href="#nb" x="200"/>
<use href="#nr" x="240"/><use href="#nr" x="360"/><use href="#nb" x="360"/><use href="#nr" x="400"/><use href="#nb" x="400"/><use href="#nr" x="440"/><use href="#nb" x="440"/>
<use href="#nr" x="480"/><use href="#ng" x="570"/><use href="#ng" x="585"/><use href="#nr" x="600"/><use href="#nb" x="600"/><use href="#nr" x="640"/><use href="#nb" x="640"/><use href="#nr" x="680"/><use href="#nb" x="680"/>
<use href="#nr" x="720"/><use href="#ng" x="810"/><use href="#ng" x="825"/><use href="#nr" x="840"/><use href="#nb" x="840"/><use href="#nr" x="880"/><use href="#nb" x="880"/><use href="#nr" x="920"/><use href="#nb" x="920"/>
<rect class="od" x="0" y="0" width="112" height="60"/><rect class="pk" x="112" y="0" width="8" height="60"/>
<text class="mn"><tspan x="1" y="-7.5">109</tspan><tspan x="241">110</tspan><tspan x="481">111</tspan><tspan x="721">112</tspan></text>
<text class="sa"><tspan x="239.3" y="77.4">360</tspan><tspan x="479.3">273</tspan><tspan x="719.3">339</tspan><tspan x="959.3">339</tspan></text>
<text class="sb"><tspan x="239.3" y="90.7">94414</tspan><tspan x="479.3">95506</tspan><tspan x="719.3">96862</tspan><tspan x="959.3">98218</tspan></text>
<text class="sc"><tspan x="239.3" y="102.4">0.00%</tspan><tspan x="479.3">0.00%</tspan><tspan x="719.3">0.00%</tspan><tspan x="959.3">0.00%</tspan></text>
</g>

<g id="row29" transform="translate(31.3,4530.3)">
<use href="#grid"/>
<path class="h hr" d="M240 15H840"/>
<use href="#nr" x="0"/><use href="#nr" x="40"/><use href="#nr" x="120"/><use href="#nr" x="160"/><use href="#nr" x="200"/><use href="#nr" x="240"/><use href="#nb" x="0"/><use href="#nb" x="120"/><use href="#nb" x="200"/><use href="#ng" x="80"/><use href="#ny" x="80"/>
<text class="mn"><tspan x="1" y="-7.5">113</tspan><tspan x="241">114</tspan><tspan x="481">115</tspan><tspan x="721">116</tspan></text>
<text class="sa"><tspan x="239.3" y="77.4">360</tspan><tspan x="479.3">84</tspan><tspan x="719.3">48</tspan><tspan x="959.3">24</tspan></text>
<text class="sb"><tspan x="239.3" y="90.7">99658</tspan><tspan x="479.3">99994</tspan><tspan x="719.3">100186</tspan><tspan x="959.3">100282</tspan></text>
<text class="sc"><tspan x="239.3" y="102.4">0.00%</tspan><tspan x="479.3">0.00%</tspan><tspan x="719.3">0.00%</tspan><tspan x="959.3">0.00%</tspan></text>
</g>
</g>
</svg>
